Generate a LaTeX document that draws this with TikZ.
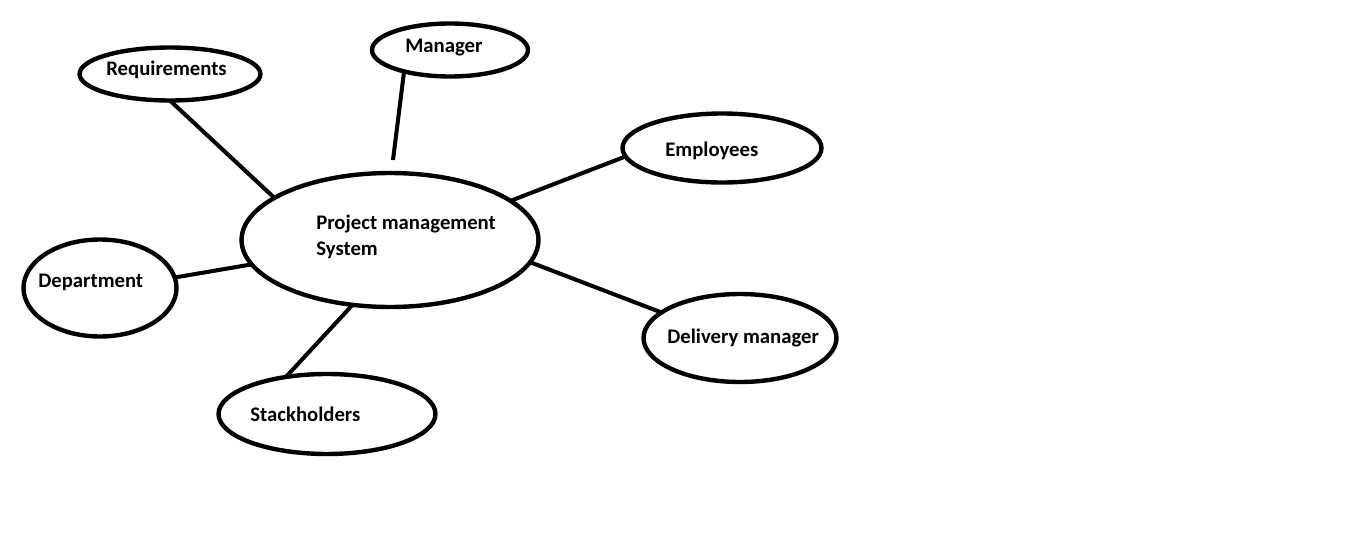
\documentclass[tikz,border=0pt]{standalone}
\usepackage{fontspec}
\setmainfont{Carlito}
\usepackage{tikz}
\usetikzlibrary{shapes.geometric}
\usetikzlibrary{positioning}

\tikzset{
  bubble/.style={draw, ellipse, line width=2.5pt, inner sep=0pt, outer sep=0pt},
  txt/.style={font=\bfseries\fontsize{11.8}{14.8}\selectfont, inner sep=0pt, align=left},
  link/.style={line width=2.3pt}
}

\begin{document}
\begin{tikzpicture}[x=0.02cm, y=-0.02cm]
      \useasboundingbox (0, 0) rectangle (1346, 551);

      % ellipses
      \node[bubble, minimum width=5.94cm, minimum height=2.68cm] (pms) at (390, 240) {};
      \node[bubble, minimum width=3.62cm, minimum height=1.06cm] (req) at (170, 74) {};
      \node[bubble, minimum width=3.12cm, minimum height=1.06cm] (mgr) at (450, 50) {};
      \node[bubble, minimum width=3.98cm, minimum height=1.38cm] (emp) at (722, 148) {};
      \node[bubble, minimum width=3.06cm, minimum height=1.94cm] (dep) at (100, 288) {};
      \node[bubble, minimum width=3.86cm, minimum height=1.76cm] (dlv) at (740, 338) {};
      \node[bubble, minimum width=4.34cm, minimum height=1.60cm] (stk) at (327, 414) {};

      % texts
      \node[txt, anchor=west] (pmstxt) at (316, 237) {Project management\\System};
      \node[txt, anchor=west] (reqtxt) at (106, 70) {Requirements};
      \node[txt, anchor=west] (mgrtxt) at (405, 48) {Manager};
      \node[txt, anchor=west] (emptxt) at (665, 151) {Employees};
      \node[txt, anchor=west] (deptxt) at (38, 282) {Department};
      \node[txt, anchor=west] (dlvtxt) at (667, 338) {Delivery manager};
      \node[txt, anchor=west] (stktxt) at (250, 414) {Stackholders};

      % links
      \coordinate (mgrend) at (393, 160);
      \draw[link] (req.-90) -- (pms.160);
      \draw[link] (mgr.205) -- (mgrend);
      \draw[link] (pms.18) -- (emp.185);
      \draw[link] (dep.8) -- (pms.190);
      \draw[link] (pms.-9) -- (dlv.162);
      \draw[link] (pms.-120) -- (stk.138);

    \end{tikzpicture}
\end{document}
